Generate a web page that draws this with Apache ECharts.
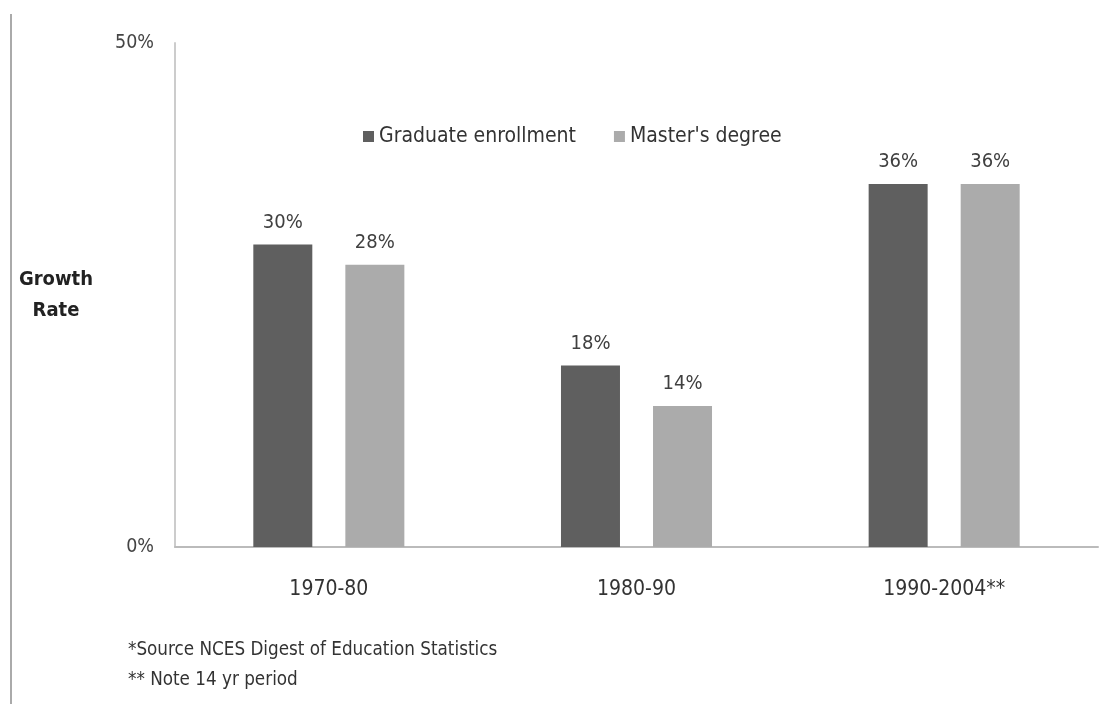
<!DOCTYPE html>
<html><head><meta charset="utf-8">
<script src="https://cdn.jsdelivr.net/npm/echarts@6/dist/echarts.min.js"></script>
<style>html,body{margin:0;padding:0;background:#fff}#c{width:1109px;height:704px}</style>
</head><body><div id="c"></div>
<script>
const categories = ['1970-80', '1980-90', '1990-2004**'];
const graduateEnrollment = [30, 18, 36];
const mastersDegree = [28, 14, 36];
const seriesNames = ['Graduate enrollment', "Master's degree"];
const yTickMin = 0, yTickMax = 50, yTickStep = 50;
const footnotes = ['*Source NCES Digest of Education Statistics', '** Note 14 yr period'];
const yTitleLines = ['Growth', 'Rate'];

const FONT = '"DejaVu Sans Condensed", "Liberation Sans Narrow", "Liberation Sans", sans-serif';
const chart = echarts.init(document.getElementById('c'));
const lbl = {show: true, position: 'top', distance: 12, formatter: p => p.value + '%', color: '#404040', fontSize: 20, fontFamily: FONT};
chart.setOption({
  backgroundColor: '#fff',
  animation: false,
  grid: {left: 175, right: 11, top: 43, bottom: 157, containLabel: false},
  legend: {
    data: seriesNames, top: 121, left: 358, itemWidth: 11, itemHeight: 11, itemGap: 38,
    icon: 'rect',
    textStyle: {fontFamily: FONT, fontSize: 21, color: '#333'}
  },
  xAxis: {
    type: 'category', data: categories,
    axisLine: {lineStyle: {color: '#bbb', width: 2}},
    axisTick: {show: false},
    axisLabel: {margin: 32, color: '#333', fontSize: 21, fontFamily: FONT}
  },
  yAxis: {
    type: 'value', min: yTickMin, max: yTickMax, interval: yTickStep,
    axisLine: {show: true, lineStyle: {color: '#ccc', width: 2}},
    axisTick: {show: false},
    splitLine: {show: false},
    axisLabel: {margin: 21, color: '#444', fontSize: 19.5, fontFamily: FONT, formatter: v => v + '%'}
  },
  series: [
    {name: seriesNames[0], type: 'bar', data: graduateEnrollment, barWidth: 59, barGap: '56%',
     itemStyle: {color: '#5f5f5f'}, label: lbl},
    {name: seriesNames[1], type: 'bar', data: mastersDegree, barWidth: 59,
     itemStyle: {color: '#ababab'}, label: lbl}
  ],
  graphic: [
    {type: 'line', shape: {x1: 11, y1: 14, x2: 11, y2: 704}, style: {stroke: '#aaa', lineWidth: 2}},
    {type: 'text', style: {x: 56, y: 280, text: yTitleLines[0], fontFamily: FONT, fontSize: 20, fontWeight: 'bold', fill: '#222', align: 'center', verticalAlign: 'middle'}},
    {type: 'text', style: {x: 56, y: 311, text: yTitleLines[1], fontFamily: FONT, fontSize: 20, fontWeight: 'bold', fill: '#222', align: 'center', verticalAlign: 'middle'}},
    {type: 'text', style: {x: 128, y: 650, text: footnotes[0], fontFamily: FONT, fontSize: 18.7, fill: '#333', verticalAlign: 'middle'}},
    {type: 'text', style: {x: 128, y: 680, text: footnotes[1], fontFamily: FONT, fontSize: 18.7, fill: '#333', verticalAlign: 'middle'}}
  ]
});
</script></body></html>
